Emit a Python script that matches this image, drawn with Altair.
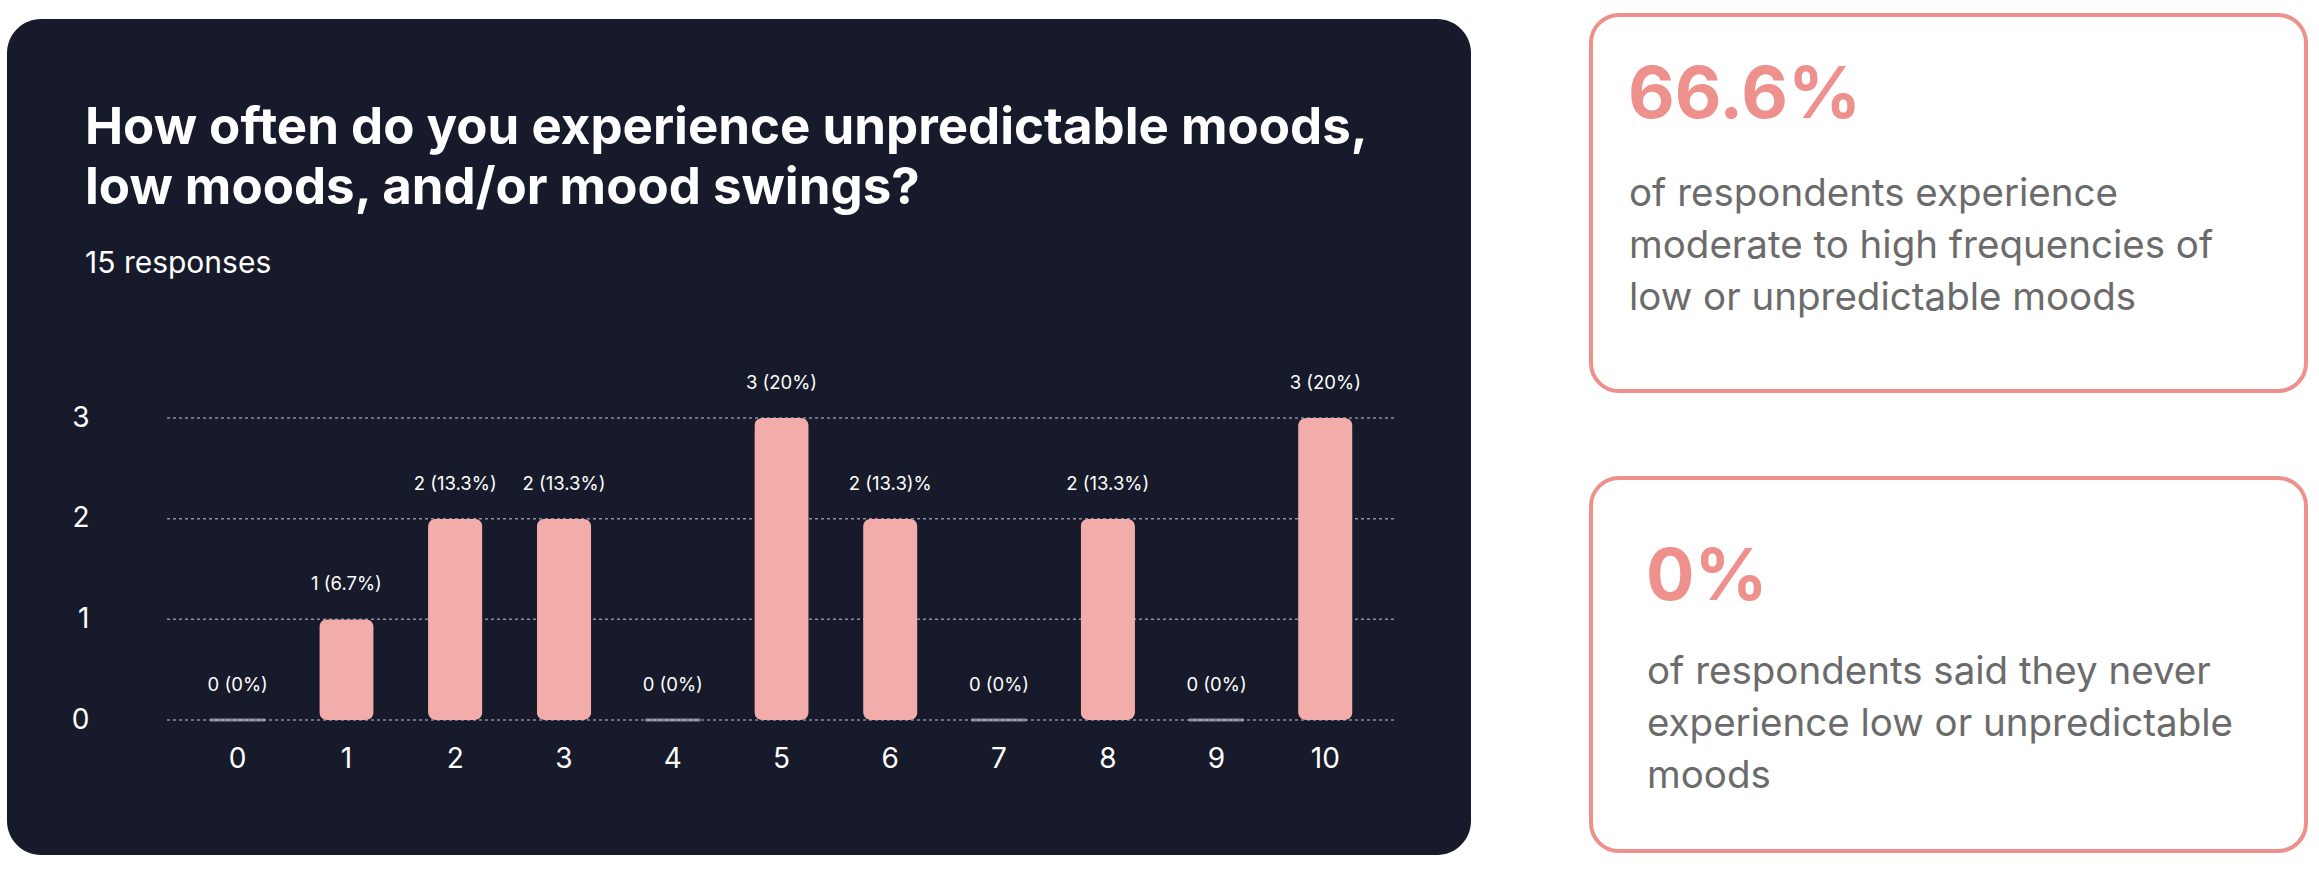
import altair as alt
import pandas as pd

# ---------------- data ----------------
categories = ["0", "1", "2", "3", "4", "5", "6", "7", "8", "9", "10"]
counts = [0, 1, 2, 2, 0, 3, 2, 0, 2, 0, 3]
value_labels = ["0 (0%)", "1 (6.7%)", "2 (13.3%)", "2 (13.3%)", "0 (0%)", "3 (20%)",
                "2 (13.3)%", "0 (0%)", "2 (13.3%)", "0 (0%)", "3 (20%)"]
y_ticks = [0, 1, 2, 3]

title_lines = ["How often do you experience unpredictable moods,",
               "low moods, and/or mood swings?"]
subtitle = "15 responses"
stat1_value = "66.6%"
stat1_lines = ["of respondents experience",
               "moderate to high frequencies of",
               "low or unpredictable moods"]
stat2_value = "0%"
stat2_lines = ["of respondents said they never",
               "experience low or unpredictable",
               "moods"]

# ---------------- styling ----------------
FONT = "Inter"
PANEL = "#171A2A"
BAR = "#F2ACAA"
ACCENT = "#EE908C"
BODY = "#6B6B6B"
W, H = 1229, 302

df = pd.DataFrame({"score": categories, "count": counts, "label": value_labels})
bars_df = df[df["count"] > 0]
zero_df = df[df["count"] == 0]
grid_df = pd.DataFrame({"count": y_ticks})
one = pd.DataFrame({"k": [0]})

x_enc = alt.X(
    "score:O", sort=categories, title=None,
    scale=alt.Scale(paddingInner=0.5, paddingOuter=0.4),
    axis=alt.Axis(labelAngle=0, domain=False, ticks=False, tickSize=0, grid=False,
                  labelColor="#FFFFFF", labelFontSize=28, labelFont=FONT,
                  labelPadding=25, zindex=1),
)
y_enc = alt.Y(
    "count:Q", title=None,
    scale=alt.Scale(domain=[0, 3], nice=False, zero=True),
    axis=alt.Axis(values=y_ticks, domain=False, ticks=False, tickSize=0, grid=False,
                  labelColor="#FFFFFF", labelFontSize=28, labelFont=FONT,
                  labelPadding=78, zindex=1, format="d"),
)

panel = alt.Chart(one).mark_rect(color=PANEL, cornerRadius=34).encode(
    x=alt.value(-160), x2=alt.value(1304), y=alt.value(-399), y2=alt.value(437))

card1 = alt.Chart(one).mark_rect(fill="#FFFFFF", stroke=ACCENT, strokeWidth=4, cornerRadius=28).encode(
    x=alt.value(1424), x2=alt.value(2139), y=alt.value(-403), y2=alt.value(-27))
card2 = alt.Chart(one).mark_rect(fill="#FFFFFF", stroke=ACCENT, strokeWidth=4, cornerRadius=28).encode(
    x=alt.value(1424), x2=alt.value(2139), y=alt.value(60), y2=alt.value(433))

grid = alt.Chart(grid_df).mark_rule(color="#8A8F9B", strokeWidth=1.5, strokeDash=[3, 3]).encode(
    y=y_enc, x=alt.value(0), x2=alt.value(W))

bars = alt.Chart(bars_df).mark_bar(color=BAR, cornerRadius=8).encode(x=x_enc, y=y_enc)

zeros = alt.Chart(zero_df).mark_tick(color="#B5B8BF", thickness=3, size=55, orient="horizontal").encode(
    x=x_enc, y=y_enc)

labels = alt.Chart(df).mark_text(baseline="alphabetic", dy=-29, fontSize=18.5, font=FONT,
                                 color="#FFFFFF").encode(x=x_enc, y=y_enc, text="label:N")

title = alt.Chart(one).mark_text(align="left", baseline="alphabetic", fontSize=51, fontWeight=700,
                                 font=FONT, color="#FFFFFF", lineHeight=60).encode(
    x=alt.value(-82), y=alt.value(-274), text=alt.value(title_lines))

sub = alt.Chart(one).mark_text(align="left", baseline="alphabetic", fontSize=30, font=FONT,
                               color="#FFFFFF").encode(
    x=alt.value(-82), y=alt.value(-145), text=alt.value(subtitle))

s1v = alt.Chart(one).mark_text(align="left", baseline="alphabetic", fontSize=72, fontWeight=700,
                               font=FONT, color=ACCENT).encode(
    x=alt.value(1461), y=alt.value(-300), text=alt.value(stat1_value))
s1t = alt.Chart(one).mark_text(align="left", baseline="alphabetic", fontSize=38.5, font=FONT,
                               color=BODY, lineHeight=52).encode(
    x=alt.value(1462), y=alt.value(-212), text=alt.value(stat1_lines))

s2v = alt.Chart(one).mark_text(align="left", baseline="alphabetic", fontSize=72, fontWeight=700,
                               font=FONT, color=ACCENT).encode(
    x=alt.value(1479), y=alt.value(182), text=alt.value(stat2_value))
s2t = alt.Chart(one).mark_text(align="left", baseline="alphabetic", fontSize=38.5, font=FONT,
                               color=BODY, lineHeight=52).encode(
    x=alt.value(1480), y=alt.value(266), text=alt.value(stat2_lines))

chart = alt.layer(
    panel, card1, card2, grid, bars, zeros, labels, title, sub, s1v, s1t, s2v, s2t
).properties(
    width=W, height=H,
    autosize=alt.AutoSizeParams(type="none"),
    padding={"left": 167, "top": 418, "right": 923, "bottom": 151},
    background="#FFFFFF",
).configure_view(stroke="transparent").configure(font=FONT)

chart.save("out.html", embed_options={"renderer": "svg", "actions": False})
